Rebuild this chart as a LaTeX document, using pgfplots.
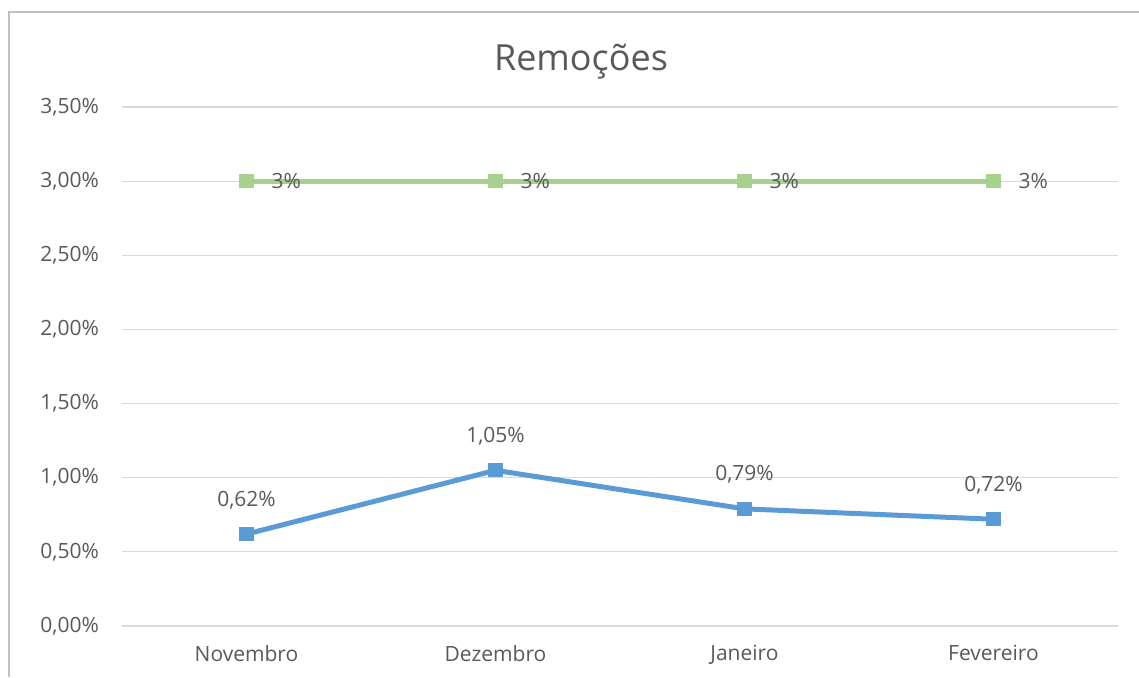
\documentclass[border=0pt]{standalone}
\usepackage{fontspec}
\setmainfont{Open Sans}
\usepackage{pgfplots}
\pgfplotsset{compat=1.18}
\definecolor{txt}{HTML}{595959}
\definecolor{gridc}{HTML}{D9D9D9}
\definecolor{blu}{HTML}{5B9BD5}
\definecolor{grn}{HTML}{A9D18E}
\definecolor{frame}{HTML}{BFBFBF}
\begin{document}
\begin{tikzpicture}[x=0.5pt,y=0.5pt]
\path[use as bounding box] (0,0) rectangle (1139,677);
\draw[frame, line width=1pt] (9,0) -- (9,665) -- (1139,665);
\node[txt, font=\fontsize{18}{21}\selectfont] at (581,615) {Remoções};
\begin{axis}[
  at={(61pt,25.5pt)}, anchor=south west,
  scale only axis, width=498pt, height=259.5pt,
  xmin=-0.5, xmax=3.5, ymin=0, ymax=3.5,
  xtick={0,1,2,3},
  xticklabels={Novembro,Dezembro,Janeiro,Fevereiro},
  ytick={0,0.5,1,1.5,2,2.5,3,3.5},
  yticklabels={{0,00\%},{0,50\%},{1,00\%},{1,50\%},{2,00\%},{2,50\%},{3,00\%},{3,50\%}},
  ymajorgrids, grid style={gridc, line width=0.6pt},
  axis line style={draw=none},
  major tick length=0pt,
  tick label style={txt, font=\fontsize{10.5}{13}\selectfont},
  yticklabel style={xshift=-8pt},
  xticklabel style={yshift=-6pt},
  clip=false,
]
\addplot[grn, line width=2.5pt, mark=square*, mark size=2.3pt,
  nodes near coords={3\%},
  every node near coord/.append style={txt, font=\fontsize{10.5}{13}\selectfont, anchor=west, xshift=8pt}]
  coordinates {(0,3) (1,3) (2,3) (3,3)};
\addplot[blu, line width=2.5pt, mark=square*, mark size=2.3pt,
  point meta=explicit symbolic,
  nodes near coords,
  every node near coord/.append style={txt, font=\fontsize{10.5}{13}\selectfont, anchor=south, yshift=8pt}]
  coordinates {(0,0.62) [0,62\%] (1,1.05) [1,05\%] (2,0.79) [0,79\%] (3,0.72) [0,72\%]};
\end{axis}
\end{tikzpicture}
\end{document}
